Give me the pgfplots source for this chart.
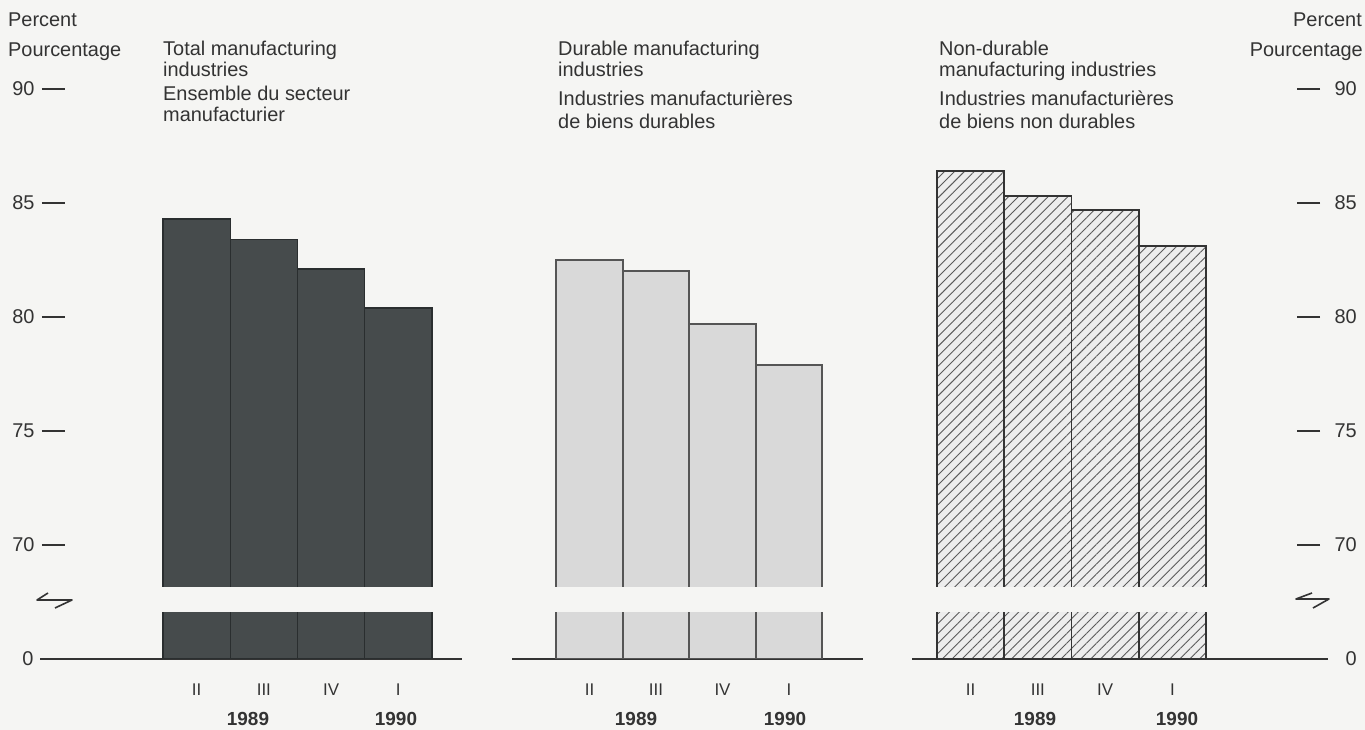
\documentclass[border=0pt]{standalone}
\usepackage{fontspec}
\setmainfont{Liberation Sans}
\usepackage{pgfplots}
\usepackage{pgfplotstable}
\pgfplotsset{compat=1.18}
\usetikzlibrary{patterns.meta}
\definecolor{ink}{HTML}{333333}
\definecolor{darkbar}{HTML}{464B4C}
\definecolor{darkedge}{HTML}{2A2E2F}
\definecolor{lightbar}{HTML}{D9D9D9}
\definecolor{lightedge}{HTML}{555555}
\definecolor{hatchbg}{HTML}{EDEDED}
\definecolor{hatchln}{HTML}{5A5A5A}
\definecolor{bg}{HTML}{F5F5F3}

% quarter index (0 = 1989 II, 1 = 1989 III, 2 = 1989 IV, 3 = 1990 I), percent
\pgfplotstableread{
q v
0 84.3
1 83.4
2 82.1
3 80.4
}\totaltab
\pgfplotstableread{
q v
0 82.5
1 82.0
2 79.7
3 77.9
}\durabletab
\pgfplotstableread{
q v
0 86.4
1 85.3
2 84.7
3 83.1
}\nondurabletab

\pgfplotsset{
  upper/.style={scale only axis, anchor=south west, height=535.8bp,
    ymin=67.0, ymax=90.5, hide axis, ybar, bar width=1, clip=true},
  lower/.style={scale only axis, anchor=south west, height=46bp,
    ymin=0, ymax=1, ybar, bar width=1, clip=true,
    axis x line*=bottom, x axis line style={draw=ink, line width=1.6bp, -},
    xtick={0,1,2,3}, xticklabels={II,III,IV,I}, major tick length=0pt,
    xticklabel style={font=\fontsize{17}{17}\selectfont, text=ink, anchor=center, yshift=-31bp}},
  tickaxis/.style={scale only axis, anchor=south west, height=509.4bp, width=10bp,
    xmin=0, xmax=1, ymin=68.158, ymax=90.5, axis x line=none,
    y axis line style={draw=none}, ytick={70,75,80,85,90},
    tick align=outside, major tick length=23bp,
    tick style={draw=ink, line width=2bp},
    /pgf/number format/assume math mode=true,
    yticklabel style={font=\fontsize{20}{20}\selectfont, text=ink}},
  darkst/.style={fill=darkbar, draw=darkedge, line width=1.4bp},
  lightst/.style={fill=lightbar, draw=lightedge, line width=1.8bp},
  hatchst/.style={fill=hatchbg, draw=ink, line width=1.8bp,
    postaction={pattern={Lines[angle=45,distance=7bp,line width=0.9bp]}, pattern color=hatchln}},
}

\begin{document}
\begin{tikzpicture}
\useasboundingbox (0,0) rectangle (1365bp,730bp);
\fill[bg] (0,0) rectangle (1365bp,730bp);

% ---- upper (broken) parts: 68-90 percent
\begin{axis}[upper, at={(40bp,116.6bp)}, width=422bp, xmin=-2.3286, xmax=3.9465]
\addplot[darkst] table[x=q,y=v]{\totaltab};
\end{axis}
\begin{axis}[upper, at={(512bp,116.6bp)}, width=351bp, xmin=-1.1654, xmax=4.1128]
\addplot[lightst] table[x=q,y=v]{\durabletab};
\end{axis}
\begin{axis}[upper, at={(912bp,116.6bp)}, width=416bp, xmin=-0.8714, xmax=5.3145]
\addplot[hatchst] table[x=q,y=v]{\nondurabletab};
\end{axis}

% ---- gap of the broken scale
\fill[bg] (0,108bp) rectangle (1365bp,143bp);

% ---- lower parts near zero
\begin{axis}[lower, at={(40bp,71bp)}, width=422bp, xmin=-2.3286, xmax=3.9465,
  axis y line*=left, y axis line style={draw=none}, ytick={0},
  /pgf/number format/assume math mode=true,
  yticklabel style={font=\fontsize{20}{20}\selectfont, text=ink, xshift=-3bp}]
\addplot[darkst] table[x=q,y=v]{\totaltab};
\end{axis}
\begin{axis}[lower, at={(512bp,71bp)}, width=351bp, xmin=-1.1654, xmax=4.1128,
  axis y line=none, ytick=\empty]
\addplot[lightst] table[x=q,y=v]{\durabletab};
\end{axis}
\begin{axis}[lower, at={(912bp,71bp)}, width=416bp, xmin=-0.8714, xmax=5.3145,
  axis y line*=right, y axis line style={draw=none}, ytick={0},
  /pgf/number format/assume math mode=true,
  yticklabel style={font=\fontsize{20}{20}\selectfont, text=ink, xshift=14bp}]
\addplot[hatchst] table[x=q,y=v]{\nondurabletab};
\end{axis}

% ---- y ticks left and right
\begin{axis}[tickaxis, at={(65bp,143bp)}, axis y line*=left,
  yticklabel style={xshift=-4bp}]
\end{axis}
\begin{axis}[tickaxis, at={(1287bp,143bp)}, axis y line*=right,
  yticklabel style={xshift=11bp}]
\end{axis}

% ---- axis break marks
\draw[ink, line width=1.6bp, line join=round] (48bp,137bp) -- (37bp,130bp) -- (72bp,130bp) -- (55bp,122bp);
\draw[ink, line width=1.6bp, line join=round] (1312bp,137bp) -- (1296bp,131bp) -- (1329bp,131bp) -- (1313bp,122bp);

% ---- texts
\begin{scope}[every node/.style={text=ink, font=\fontsize{20}{20}\selectfont, inner sep=0pt}]
\node[anchor=base west] at (8bp,703bp) {Percent};
\node[anchor=base west] at (8bp,673bp) {Pourcentage};
\node[anchor=base east] at (1362bp,703bp) {Percent};
\node[anchor=base east] at (1363bp,673bp) {Pourcentage};

\node[anchor=base west] at (163bp,674bp) {Total manufacturing};
\node[anchor=base west] at (163bp,653bp) {industries};
\node[anchor=base west] at (163bp,629bp) {Ensemble du secteur};
\node[anchor=base west] at (163bp,608bp) {manufacturier};

\node[anchor=base west] at (558bp,674bp) {Durable manufacturing};
\node[anchor=base west] at (558bp,653bp) {industries};
\node[anchor=base west] at (558bp,624bp) {Industries manufacturières};
\node[anchor=base west] at (558bp,601bp) {de biens durables};

\node[anchor=base west] at (939bp,674bp) {Non-durable};
\node[anchor=base west] at (939bp,653bp) {manufacturing industries};
\node[anchor=base west] at (939bp,624bp) {Industries manufacturières};
\node[anchor=base west] at (939bp,601bp) {de biens non durables};
\end{scope}
\begin{scope}[every node/.style={text=ink, font=\fontsize{19}{19}\selectfont\bfseries, inner sep=0pt, anchor=base}]
\node at (248bp,5bp) {1989};
\node at (396bp,5bp) {1990};
\node at (636bp,5bp) {1989};
\node at (785bp,5bp) {1990};
\node at (1035bp,5bp) {1989};
\node at (1177bp,5bp) {1990};
\end{scope}
\end{tikzpicture}
\end{document}
